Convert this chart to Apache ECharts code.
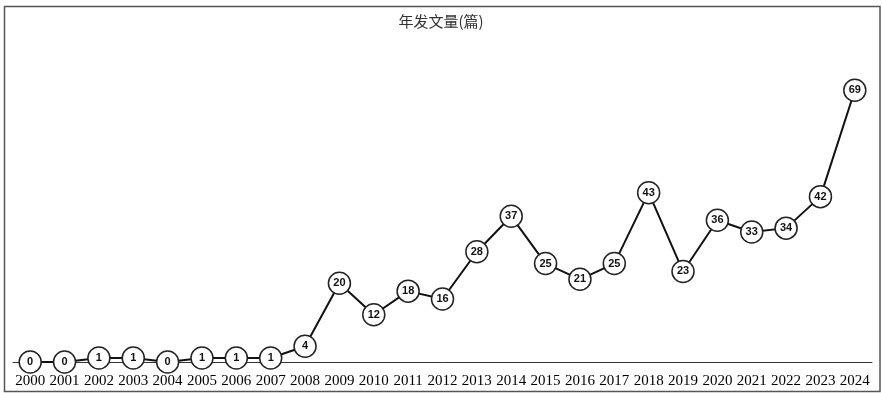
<!DOCTYPE html>
<html>
<head>
<meta charset="utf-8">
<script src="https://cdn.jsdelivr.net/npm/echarts@6/dist/echarts.min.js"></script>
<style>
html,body{margin:0;padding:0;background:#fff;}
#chart{width:882px;height:393px;}
</style>
</head>
<body>
<div id="chart"></div>
<script>
var years = ['2000','2001','2002','2003','2004','2005','2006','2007','2008','2009','2010','2011','2012','2013','2014','2015','2016','2017','2018','2019','2020','2021','2022','2023','2024'];
var counts = [0,0,1,1,0,1,1,1,4,20,12,18,16,28,37,25,21,25,43,23,36,33,34,42,69];
var chartTitle = '年发文量(篇)';

var chart = echarts.init(document.getElementById('chart'));
chart.setOption({
  backgroundColor: '#fff',
  animation: false,
  title: {
    text: chartTitle,
    left: 'center',
    top: 9,
    textStyle: {
      fontFamily: 'Noto Sans CJK SC',
      fontSize: 15,
      fontWeight: 'normal',
      color: '#333'
    }
  },
  graphic: [{
    type: 'rect',
    shape: {x: 4.5, y: 6.5, width: 875.5, height: 385},
    style: {fill: 'none', stroke: '#555', lineWidth: 1.5},
    silent: true,
    z: 100
  }],
  grid: {left: 13, right: 10, top: 47, bottom: 31, containLabel: false},
  xAxis: {
    type: 'category',
    data: years,
    boundaryGap: true,
    axisLine: {show: true, lineStyle: {color: '#333', width: 1}},
    axisTick: {show: false},
    axisLabel: {
      interval: 0,
      margin: 12,
      fontFamily: 'Liberation Serif',
      fontSize: 15,
      color: '#000'
    }
  },
  yAxis: {
    type: 'value',
    min: 0,
    max: 80,
    show: false,
    splitLine: {show: false}
  },
  series: [{
    type: 'line',
    data: counts,
    symbol: 'circle',
    symbolSize: 22,
    lineStyle: {color: '#111', width: 2},
    itemStyle: {color: '#fff', borderColor: '#222', borderWidth: 1.5},
    label: {
      show: true,
      position: 'inside',
      fontFamily: 'Liberation Sans',
      fontWeight: 'bold',
      fontSize: 11,
      color: '#111'
    },
    z: 3
  }]
});
</script>
</body>
</html>
